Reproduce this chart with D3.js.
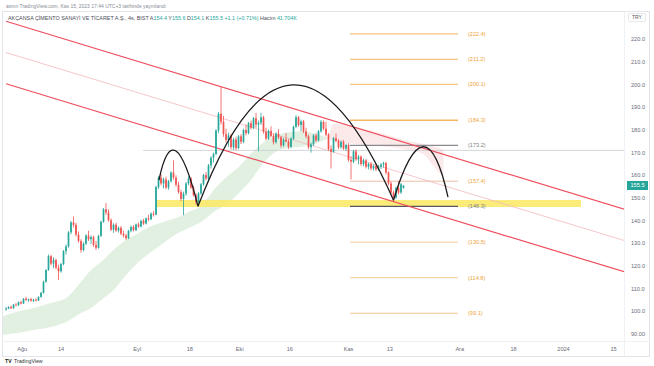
<!DOCTYPE html>
<html><head><meta charset="utf-8">
<script src="https://cdn.jsdelivr.net/npm/d3@7"></script>
<style>body{margin:0;background:#fff;}svg{display:block;font-family:"Liberation Sans",Arial,sans-serif;}</style>
</head><body><svg id="c" width="654" height="366"></svg>
<script>
// ---------- DATA ----------
// 4h candles [open, high, low, close]
const candles = [
[100.8,101.8,100.2,101.2],[101.2,102.2,100.9,101.9],[101.9,102.5,101.0,101.3],[101.3,103.2,101.1,102.9],
[102.9,103.6,102.2,102.6],[102.6,104.3,102.4,104.0],[104.0,104.6,103.0,103.4],[103.4,105.8,103.2,105.5],
[105.5,106.4,104.6,104.9],[104.9,105.6,104.1,105.3],[105.3,105.9,104.2,104.6],[104.6,105.5,104.0,105.1],
[105.1,105.7,104.3,104.7],[104.7,106.6,104.5,106.3],[106.3,108.5,106.0,108.1],[108.1,113.5,107.8,113.0],
[113.0,118.6,112.6,118.2],[118.2,125.0,117.9,124.3],[124.3,124.9,120.2,121.0],[121.0,123.8,119.0,122.6],
[122.6,123.2,118.5,119.2],[119.2,120.5,113.8,117.6],[117.6,121.3,117.0,120.8],[120.8,127.0,120.3,126.5],
[126.5,129.5,125.0,128.6],[128.6,135.4,128.0,134.8],[134.8,139.8,134.0,139.2],[139.2,141.8,137.0,138.1],
[138.1,139.0,133.0,133.8],[133.8,135.2,130.2,131.0],[131.0,131.8,125.8,127.0],[127.0,130.5,126.4,129.8],
[129.8,134.0,129.2,133.4],[133.4,135.5,131.0,131.8],[131.8,133.5,129.6,132.7],[132.7,133.4,128.4,129.2],
[129.2,131.0,127.0,128.0],[128.0,133.8,127.6,133.2],[133.2,140.0,132.8,139.5],[139.5,145.6,139.0,145.0],
[145.0,147.8,142.5,143.6],[143.6,145.0,139.5,140.2],[140.2,141.0,135.4,136.0],[136.0,138.8,134.6,138.2],
[138.2,139.0,135.0,135.6],[135.6,137.4,134.8,136.8],[136.8,137.6,133.5,134.2],[134.2,135.5,132.6,133.4],
[133.4,134.2,131.5,132.2],[132.2,135.9,131.8,135.5],[135.5,137.8,134.8,137.2],[137.2,138.0,135.2,135.8],
[135.8,138.7,135.3,138.3],[138.3,139.2,136.8,137.4],[137.4,140.4,137.0,139.9],[139.9,140.8,138.1,138.7],
[138.7,141.4,138.3,141.0],[141.0,142.6,139.8,140.6],[140.6,143.6,140.2,143.1],[143.1,144.2,141.8,142.6],
[142.6,155.4,142.3,154.8],[154.8,159.8,154.0,158.9],[158.9,160.6,155.6,156.4],[156.4,159.0,154.2,158.2],
[158.2,159.4,153.8,154.6],[154.6,158.0,153.6,157.4],[157.4,161.8,156.8,161.2],[161.2,166.6,158.0,159.0],
[159.0,160.0,155.0,155.8],[155.8,157.2,151.8,152.6],[152.6,153.6,148.6,149.6],[149.6,152.8,142.4,151.9],
[151.9,157.0,151.0,156.4],[156.4,159.6,155.6,158.6],[158.6,159.2,154.0,154.6],[154.6,155.4,150.6,151.2],
[151.2,152.0,147.2,148.2],[148.2,152.6,147.6,152.0],[152.0,156.6,151.4,156.0],[156.0,160.6,155.4,160.1],
[160.1,161.4,157.8,158.6],[158.6,165.0,158.0,164.4],[164.4,168.4,163.0,167.8],[167.8,170.0,165.6,169.4],
[169.4,180.4,168.8,179.8],[179.8,188.0,178.6,187.2],[187.2,199.0,182.4,183.6],[183.6,186.2,177.0,178.2],
[178.2,180.6,174.6,175.6],[175.6,178.8,172.6,177.6],[177.6,178.4,171.4,172.4],[172.4,176.6,171.2,175.8],
[175.8,177.0,171.0,172.0],[172.0,177.8,171.6,177.2],[177.2,178.2,173.8,174.8],[174.8,180.6,174.2,180.0],
[180.0,182.4,177.6,178.6],[178.6,183.6,178.0,183.0],[183.0,184.2,180.2,181.0],[181.0,185.8,180.4,185.2],
[185.2,187.6,181.0,182.4],[182.4,184.2,170.6,183.2],[183.2,187.6,182.2,185.6],[185.6,186.2,178.4,179.2],
[179.2,181.0,175.4,176.2],[176.2,180.2,175.6,179.6],[179.6,181.6,176.8,177.4],[177.4,178.4,173.6,174.6],
[174.6,179.0,174.0,178.4],[178.4,180.4,176.0,176.8],[176.8,177.4,172.2,173.2],[173.2,176.4,172.6,175.8],
[175.8,178.6,174.6,174.9],[174.9,176.0,171.6,172.6],[172.6,176.8,172.0,176.2],[176.2,182.0,175.6,181.4],
[181.4,186.6,180.8,185.6],[185.6,186.2,181.4,182.2],[182.2,184.6,179.4,183.8],[183.8,184.4,178.6,179.4],
[179.4,181.0,176.4,177.2],[177.2,178.0,171.6,172.4],[172.4,174.4,170.0,173.6],[173.6,178.2,173.0,177.6],
[177.6,178.6,174.6,175.4],[175.4,180.0,175.0,179.4],[179.4,184.4,178.8,183.6],[183.6,184.2,179.8,180.6],
[180.6,183.6,177.2,178.0],[178.0,178.6,170.8,171.6],[171.6,173.2,163.0,170.4],[170.4,177.0,170.0,176.4],
[176.4,178.4,174.6,175.2],[175.2,176.0,171.6,172.4],[172.4,175.4,171.8,174.8],[174.8,175.6,171.2,171.8],
[171.8,174.0,170.8,173.4],[173.4,174.2,166.0,166.8],[166.8,168.4,158.2,166.0],[166.0,171.2,165.4,170.6],
[170.6,171.4,166.4,167.2],[167.2,169.0,164.8,168.2],[168.2,168.8,164.2,165.0],[165.0,167.4,164.0,166.6],
[166.6,167.2,163.0,163.8],[163.8,165.6,162.6,165.0],[165.0,165.8,162.2,163.0],[163.0,164.8,162.0,164.2],
[164.2,165.0,161.8,162.6],[162.6,164.6,162.0,163.8],[163.8,165.4,162.8,164.8],[164.8,166.0,163.4,165.4],
[165.4,166.0,160.4,161.2],[161.2,161.8,155.6,156.4],[156.4,157.2,151.6,152.4],[152.4,153.2,148.8,150.2],
[150.2,155.0,149.6,154.4],[154.4,157.4,151.6,152.4],[152.4,156.6,151.8,156.0],[154.4,155.6,154.1,155.5]
];
const yTicks = [90,100,110,120,130,140,150,160,170,180,190,200,210,220];
const xTickLabels = ["Ağu","14","Eyl","18","Eki","16","Kas","13","Ara","18","2024","15"];
const xTickBars = [6.5,22,52.5,73.5,93.5,113.5,137,153.5,181.5,203,223,243];
const lastPrice = 155.5;

// Ichimoku cloud (bar index, upper price, lower price)
const greenCloudBars  = [-3,4,11,18,24,30,34,38,43,48,53,58,63,68,73,78,83,88,93,98,103,108,113,118,123,129];
const greenCloudTop   = [97.0,99.6,101.4,103.6,105.8,112.9,118.2,121.7,127.0,131.4,134.5,137.5,139.4,141.1,143.8,146.4,153.4,159.0,163.5,169.6,174.5,177.5,179.0,179.4,178.6,176.4];
const greenCloudBot   = [89.4,90.3,91.7,93.0,95.2,99.2,101.4,104.9,109.3,116.0,121.7,126.1,130.1,134.0,136.7,139.4,143.8,147.0,152.0,157.9,165.5,170.4,172.0,172.6,173.8,176.4];
const redCloudBars = [129,131,137,145,153,161,167,171,175];
const redCloudTop  = [176.4,182.6,181.8,180.0,177.7,175.1,173.8,172.9,171.2];
const redCloudBot  = [176.4,175.1,174.2,173.3,172.5,171.2,169.4,164.0,159.2];

// parallel channel (bar, price)
const channelTop = [[0,228.0],[247.6,144.9]];
const channelBottom = [[0,200.4],[247.6,117.3]];

// fibonacci extension levels
const fibLevels = [222.4,211.2,200.1,184.3,173.2,157.4,146.3,130.5,114.8,99.1];
const fibRange = [137.6,180.8];

// horizontal ray and support band
const rayLevel = 171.0, rayStartBar = 54.8;
const bandBars = [60.4,230];
const bandPrices = [146.0,149.1];

// arcs: start, top, end  (bar, price)
const arcs = [
  [[61.2,157.9],[68.0,170.7],[76.8,146.3]],
  [[76.8,146.3],[114.8,199.9],[155.0,149.0]],
  [[155.0,149.0],[166.8,172.6],[176.8,150.4]]
];

// ---------- DRAW ----------
const svg = d3.select("#c");
const W = 654, H = 366;
const plot = {l:3, r:624, t:12, b:341};
const x = d3.scaleLinear().domain([0,159]).range([6,403.5]);
const y = d3.scaleLinear().domain([90,220]).range([333.85,39.4]);
const UP = "#26a69a", DOWN = "#ef5350";

svg.append("rect").attr("width",W).attr("height",H).attr("fill","#fff");
svg.append("defs").append("clipPath").attr("id","pc").append("rect")
  .attr("x",plot.l).attr("y",plot.t).attr("width",plot.r-plot.l).attr("height",plot.b-plot.t);

// frame
svg.append("rect").attr("x",2.5).attr("y",11.5).attr("width",647).attr("height",345)
  .attr("fill","none").attr("stroke","#e3e5ea").attr("stroke-width",1);
svg.append("line").attr("x1",2.5).attr("x2",649.5).attr("y1",341.5).attr("y2",341.5).attr("stroke","#f0f1f4");
svg.append("line").attr("x1",624.5).attr("x2",624.5).attr("y1",11.5).attr("y2",356.5).attr("stroke","#f0f1f4");

const g = svg.append("g").attr("clip-path","url(#pc)");

// cloud
const areaG = d3.area().x(d=>x(d[0])).y0(d=>y(d[2])).y1(d=>y(d[1])).curve(d3.curveMonotoneX);
g.append("path").datum(greenCloudBars.map((b,i)=>[b,greenCloudTop[i],greenCloudBot[i]]))
  .attr("d",areaG).attr("fill","#e1f0e1");
g.append("path").datum(redCloudBars.map((b,i)=>[b,redCloudTop[i],redCloudBot[i]]))
  .attr("d",areaG).attr("fill","#fce9e9");

// horizontal ray
g.append("line").attr("x1",x(rayStartBar)).attr("x2",plot.r).attr("y1",y(rayLevel)).attr("y2",y(rayLevel))
  .attr("stroke","#c9cbd0").attr("stroke-width",0.8);

// support band
g.append("rect").attr("x",x(bandBars[0])).attr("width",x(bandBars[1])-x(bandBars[0]))
  .attr("y",y(bandPrices[1])).attr("height",y(bandPrices[0])-y(bandPrices[1]))
  .attr("fill","#fbe96a").attr("opacity",0.9);

// fibonacci
const fibStyle = [
  {c:"#f6c27f",w:1.2},{c:"#f6c27f",w:1.2},{c:"#f6c27f",w:1.2},{c:"#f5b565",w:1.6},
  {c:"#8a8c91",w:1.2},{c:"#eab79a",w:0.9},{c:"#55575c",w:1.2},{c:"#f4c48b",w:0.9},{c:"#f4c48b",w:0.9},{c:"#f4c48b",w:0.9}];
const fibLabelColor = ["#f0a43c","#f0a43c","#f0a43c","#f0a43c","#7d7f84","#f0a43c","#7d7f84","#f0a43c","#f0a43c","#f0a43c"];
fibLevels.forEach((v,i)=>{
  g.append("line").attr("x1",x(fibRange[0])).attr("x2",x(fibRange[1])).attr("y1",y(v)).attr("y2",y(v))
   .attr("stroke",fibStyle[i].c).attr("stroke-width",fibStyle[i].w);
  g.append("text").attr("x",x(fibRange[1])+10).attr("y",y(v)).attr("dy","0.35em")
   .attr("font-size",5.6).attr("fill",fibLabelColor[i]).text("("+v.toFixed(1)+")");
});

// channel
const lineGen = d3.line().x(d=>x(d[0])).y(d=>y(d[1]));
const mid = channelTop.map((p,i)=>[p[0],(p[1]+channelBottom[i][1])/2]);
g.append("path").datum(mid).attr("d",lineGen).attr("stroke","#f3b9bd").attr("stroke-width",0.8).attr("fill","none");
[channelTop,channelBottom].forEach(c=>g.append("path").datum(c).attr("d",lineGen)
  .attr("stroke","#ee4f5f").attr("stroke-width",1.2).attr("fill","none"));

// candles
const bw = 1.7;
const cg = g.append("g");
cg.selectAll("line.w").data(candles).join("line")
  .attr("x1",(d,i)=>x(i)).attr("x2",(d,i)=>x(i)).attr("y1",d=>y(d[1])).attr("y2",d=>y(d[2]))
  .attr("stroke",d=>d[3]>=d[0]?UP:DOWN).attr("stroke-width",0.8);
cg.selectAll("rect").data(candles).join("rect")
  .attr("x",(d,i)=>x(i)-bw/2).attr("width",bw)
  .attr("y",d=>y(Math.max(d[0],d[3]))).attr("height",d=>Math.max(0.8,Math.abs(y(d[0])-y(d[3]))))
  .attr("fill",d=>d[3]>=d[0]?UP:DOWN);

// arcs (quadratic curves through top point)
arcs.forEach(a=>{
  const p0=[x(a[0][0]),y(a[0][1])], pt=[x(a[1][0]),y(a[1][1])], p2=[x(a[2][0]),y(a[2][1])];
  const c=[2*pt[0]-(p0[0]+p2[0])/2, 2*pt[1]-(p0[1]+p2[1])/2];
  const p=d3.path(); p.moveTo(p0[0],p0[1]); p.quadraticCurveTo(c[0],c[1],p2[0],p2[1]);
  g.append("path").attr("d",p.toString()).attr("stroke","#1c1c1f").attr("stroke-width",1.3).attr("fill","none");
});

// y axis
const ya = svg.append("g");
yTicks.forEach(v=>{
  ya.append("text").attr("x",631).attr("y",y(v)).attr("dy","0.35em").attr("font-size",5.6)
    .attr("fill","#6a6d78").text(v===90?"90.00":v.toFixed(1));
});
ya.append("rect").attr("x",627).attr("y",y(lastPrice)-4.5).attr("width",21).attr("height",9).attr("fill",UP);
ya.append("text").attr("x",637.5).attr("y",y(lastPrice)).attr("dy","0.35em").attr("text-anchor","middle")
  .attr("font-size",5.6).attr("fill","#fff").text(lastPrice.toFixed(1));
ya.append("rect").attr("x",628.5).attr("y",13.5).attr("width",17).attr("height",8).attr("rx",1.5)
  .attr("fill","#fff").attr("stroke","#d6d8de").attr("stroke-width",0.6);
ya.append("text").attr("x",637).attr("y",17.5).attr("dy","0.35em").attr("text-anchor","middle")
  .attr("font-size",5).attr("fill","#555").text("TRY");

// x axis
xTickBars.forEach((b,i)=>{
  svg.append("text").attr("x",x(b)).attr("y",349.5).attr("dy","0.35em").attr("text-anchor","middle")
    .attr("font-size",5.6).attr("fill","#6a6d78").text(xTickLabels[i]);
});

// header
svg.append("text").attr("x",6).attr("y",6).attr("dy","0.35em").attr("font-size",5).attr("fill","#8a8d96")
  .text("asmn TradingView.com, Kas 15, 2023 17:44 UTC+3 tarihinde yayınlandı");
const hd = svg.append("text").attr("x",8).attr("y",18).attr("dy","0.35em").attr("font-size",5.4);
hd.append("tspan").attr("fill","#4a4d57").text("AKÇANSA ÇİMENTO SANAYİ VE TİCARET A.Ş., 4s, BIST  ");
[["A","154.4"],["Y","155.6"],["D","154.1"],["K","155.5"]].forEach(p=>{
  hd.append("tspan").attr("fill","#4a4d57").text(p[0]);
  hd.append("tspan").attr("fill",UP).text(p[1]+"  ");
});
hd.append("tspan").attr("fill",UP).text("+1.1 (+0.71%)  ");
hd.append("tspan").attr("fill","#4a4d57").text("Hacim ");
hd.append("tspan").attr("fill",UP).text("41.704K");

// logo
svg.append("text").attr("x",5).attr("y",361).attr("dy","0.35em").attr("font-size",5.2).attr("font-weight","bold")
  .attr("fill","#222").text("TV");
svg.append("text").attr("x",14).attr("y",361).attr("dy","0.35em").attr("font-size",5.2).attr("fill","#333").text("TradingView");
</script></body></html>
